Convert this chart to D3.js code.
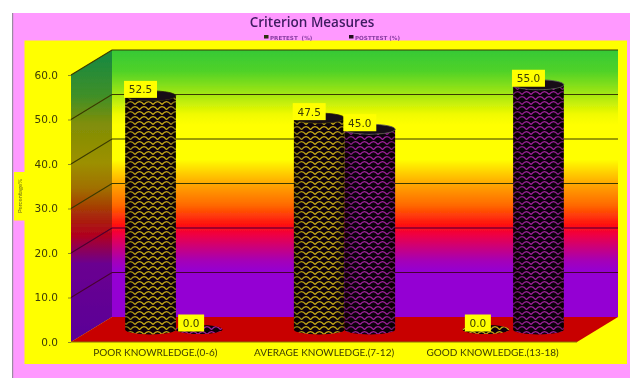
<!DOCTYPE html>
<html>
<head>
<meta charset="utf-8">
<script src="https://cdn.jsdelivr.net/npm/d3@7"></script>
<style>
  html, body { margin: 0; padding: 0; background: #fff; }
  svg { display: block; }
</style>
</head>
<body>
<svg id="chart" width="630" height="378"></svg>
<script>
var categories = ["POOR KNOWRLEDGE.(0-6)", "AVERAGE KNOWLEDGE.(7-12)", "GOOD KNOWLEDGE.(13-18)"]
var seriesNames = ["PRETEST  (%)", "POSTTEST (%)"]
var pretest = [52.5, 47.5, 0.0]
var posttest = [0.0, 45.0, 55.0]
var yTicks = [0, 10, 20, 30, 40, 50, 60]

var dimensions = {
    width: 630,
    height: 378,
    front: { left: 71, right: 577, top: 75, bottom: 342 },
    depth: { x: 41, y: -25 }
}
var front = dimensions.front
var depth = dimensions.depth

var svg = d3.select("#chart")
var defs = svg.append("defs")

defs.append("filter").attr("id", "soft")
    .attr("x", "-2%").attr("y", "-2%").attr("width", "104%").attr("height", "104%")
    .append("feGaussianBlur").attr("stdDeviation", 0.55)

function addGradient(id, stops, y1, y2) {
    var g = defs.append("linearGradient").attr("id", id)
        .attr("gradientUnits", "userSpaceOnUse")
        .attr("x1", 0).attr("x2", 0).attr("y1", y1).attr("y2", y2)
    stops.forEach(s => g.append("stop").attr("offset", s[0]).attr("stop-color", s[1]))
}

addGradient("backWall", [
    [0, "#36c936"], [0.08, "#50d228"], [0.17, "#a8e810"], [0.24, "#f0fa00"], [0.28, "#ffff00"], [0.41, "#ffff00"],
    [0.5, "#ffa800"], [0.58, "#ff6a00"], [0.655, "#ff1010"], [0.69, "#f00040"],
    [0.79, "#a400b8"], [0.83, "#9400d3"], [1, "#9400d3"]
], 50, 317)

addGradient("sideWall", [
    [0, "#1f8a3c"], [0.12, "#3f8f28"], [0.22, "#808e08"], [0.36, "#9c9000"], [0.45, "#a07000"],
    [0.55, "#a82808"], [0.62, "#b00020"], [0.72, "#6a0090"], [1, "#5a0098"]
], 62, 342)

// fish-scale fill of the cylinders
function addWeave(id, line) {
    var p = defs.append("pattern").attr("id", id)
        .attr("patternUnits", "userSpaceOnUse")
        .attr("width", 9).attr("height", 10)
    p.append("rect").attr("width", 9).attr("height", 10).attr("fill", "#0a0508")
    p.append("path")
        .attr("d", "M0 4.5 Q4.5 -1.5 9 4.5 M-4.5 9.5 Q0 3.5 4.5 9.5 M4.5 9.5 Q9 3.5 13.5 9.5")
        .attr("fill", "none").attr("stroke", line).attr("stroke-width", 1.25)
}
addWeave("weavePre", "#c8a818")
addWeave("weavePost", "#a01c9c")

var shade = defs.append("linearGradient").attr("id", "cylShade")
shade.append("stop").attr("offset", 0).attr("stop-color", "#000").attr("stop-opacity", 0.35)
shade.append("stop").attr("offset", 0.25).attr("stop-color", "#000").attr("stop-opacity", 0)
shade.append("stop").attr("offset", 0.8).attr("stop-color", "#000").attr("stop-opacity", 0)
shade.append("stop").attr("offset", 1).attr("stop-color", "#000").attr("stop-opacity", 0.35)

var root = svg.append("g").attr("filter", "url(#soft)")

// page background + chart area
root.append("rect").attr("x", 12).attr("y", 13).attr("width", 618).attr("height", 365)
    .attr("fill", "#ff99ff")
root.append("rect").attr("x", 12).attr("y", 13).attr("width", 1.2).attr("height", 365)
    .attr("fill", "#9a8aa0")
root.append("rect").attr("x", 24.5).attr("y", 40.5).attr("width", 602.5).attr("height", 323.5)
    .attr("fill", "#ffff00")

var yScale = d3.scaleLinear().domain([0, 60]).range([front.bottom, front.top])

var xFront = d3.scaleBand().domain(categories).range([front.left, front.right])
// bars stand halfway along the floor depth
var xBars = d3.scaleBand().domain(categories)
    .range([front.left + depth.x * 0.5, front.right + depth.x * 0.5])
    .paddingInner(0.4).paddingOuter(0.2)
var xSeries = d3.scaleBand().domain(seriesNames).range([0, xBars.bandwidth()])

// back wall
var backY = v => yScale(v) + depth.y
root.append("rect")
    .attr("x", front.left + depth.x).attr("y", backY(60))
    .attr("width", front.right - front.left)
    .attr("height", backY(0) - backY(60))
    .attr("fill", "url(#backWall)")

// side wall
var line = d3.line()
root.append("path")
    .attr("d", line([
        [front.left, yScale(0)], [front.left, yScale(60)],
        [front.left + depth.x, backY(60)], [front.left + depth.x, backY(0)]
    ]) + "Z")
    .attr("fill", "url(#sideWall)")

// floor
root.append("path")
    .attr("d", line([
        [front.left, yScale(0)], [front.left + depth.x, backY(0)],
        [front.right + depth.x, backY(0)], [front.right, yScale(0)]
    ]) + "Z")
    .attr("fill", "#c80000")

// gridlines
var gridColor = v => v >= 30 ? "#3a3a00" : "#4a0030"
yTicks.filter(v => v > 0).forEach(function(v) {
    root.append("path")
        .attr("d", line([
            [front.left, yScale(v)], [front.left + depth.x, backY(v)],
            [front.right + depth.x, backY(v)]
        ]))
        .attr("fill", "none")
        .attr("stroke", gridColor(v))
        .attr("stroke-width", 1.2)
})
root.append("path")
    .attr("d", line([[front.left, yScale(0)], [front.right, yScale(0)]]))
    .attr("stroke", "#8a7000").attr("stroke-width", 1).attr("fill", "none")

// y axis
var yAxisgen = d3.axisLeft(yScale).tickValues(yTicks).tickFormat(d3.format(".1f")).tickSize(3).tickPadding(10)
var yAxis = root.append("g")
    .attr("transform", `translate(${front.left},0)`)
    .call(yAxisgen)
yAxis.select(".domain").remove()
yAxis.selectAll("line").attr("stroke", "#8a8a20")
yAxis.selectAll("text")
    .attr("font-family", "DejaVu Sans")
    .attr("font-size", 10.5)
    .attr("fill", "#3c3c08")

// x axis labels
var xAxisgen = d3.axisBottom(xFront).tickSize(0).tickPadding(7)
var xAxis = root.append("g")
    .attr("transform", `translate(0,${front.bottom})`)
    .call(xAxisgen)
xAxis.select(".domain").remove()
xAxis.selectAll("text")
    .attr("font-family", "Lato")
    .attr("font-size", 10)
    .attr("fill", "#3c3c08")

// cylinders
var rows = []
categories.forEach(function(c, i) {
    rows.push({ cat: c, name: seriesNames[0], value: pretest[i], fill: "url(#weavePre)", rim: "#2a2008" })
    rows.push({ cat: c, name: seriesNames[1], value: posttest[i], fill: "url(#weavePost)", rim: "#55505c" })
})

var baseY = yScale(0) + depth.y * 0.5
var barTop = v => yScale(v) + depth.y * 0.5

rows.forEach(function(d) {
    var w = xSeries.bandwidth()
    var rx = w / 2
    var ry = 5
    var x0 = xBars(d.cat) + xSeries(d.name)
    var top = barTop(d.value)
    var g = root.append("g")
    if (d.value > 0) {
        var body = `M${x0},${top} L${x0},${baseY} A${rx},${ry} 0 0 0 ${x0 + w},${baseY} L${x0 + w},${top} A${rx},${ry} 0 0 1 ${x0},${top} Z`
        g.append("path").attr("d", body).attr("fill", d.fill)
        g.append("path").attr("d", body).attr("fill", "url(#cylShade)")
        g.append("ellipse")
            .attr("cx", x0 + rx).attr("cy", top).attr("rx", rx).attr("ry", ry)
            .attr("fill", "#150a18").attr("stroke", d.rim).attr("stroke-width", 0.8)
    } else {
        g.append("ellipse")
            .attr("cx", x0 + rx - 2).attr("cy", top).attr("rx", rx - 2).attr("ry", 4.5)
            .attr("fill", d.fill)
    }
})

// value labels
rows.forEach(function(d) {
    var cx = xBars(d.cat) + xSeries(d.name) + xSeries.bandwidth() / 2 - 10
    var cy = barTop(d.value) - 6.5
    var txt = d3.format(".1f")(d.value)
    var w = d.value > 0 ? 33 : 26
    root.append("rect")
        .attr("x", cx - w / 2).attr("y", cy - 8.5)
        .attr("width", w).attr("height", 17)
        .attr("fill", "#ffff00")
    root.append("text")
        .attr("x", cx).attr("y", cy + 4)
        .attr("text-anchor", "middle")
        .attr("font-family", "DejaVu Sans")
        .attr("font-size", 10.5)
        .attr("fill", "#3c3c08")
        .text(txt)
})

// title
root.append("text")
    .attr("x", 312).attr("y", 27)
    .attr("text-anchor", "middle")
    .attr("font-family", "Open Sans")
    .attr("font-size", 13.5)
    .attr("font-weight", 600)
    .attr("fill", "#3e1a60")
    .text("Criterion Measures")

// legend
var legendX = d3.scaleOrdinal().domain(seriesNames).range([264, 349])
seriesNames.forEach(function(n, i) {
    root.append("rect")
        .attr("x", legendX(n)).attr("y", 35)
        .attr("width", 4.5).attr("height", 3.5)
        .attr("fill", i == 0 ? "#2a3008" : "#20101c")
    root.append("text")
        .attr("x", legendX(n) + 6).attr("y", 39.5)
        .attr("font-family", "DejaVu Sans")
        .attr("font-size", 5.6)
        .attr("font-weight", "bold")
        .attr("fill", "#8a3ca2")
        .attr("xml:space", "preserve")
        .text(n)
})

// y axis title
root.append("rect").attr("x", 14).attr("y", 172).attr("width", 11).attr("height", 48.5).attr("fill", "#ffff00")
root.append("text")
    .attr("transform", "translate(21.5,196) rotate(-90)")
    .attr("text-anchor", "middle")
    .attr("font-family", "Lato")
    .attr("font-size", 6)
    .attr("fill", "#6a6a10")
    .text("Percentage%")
</script>
</body>
</html>
